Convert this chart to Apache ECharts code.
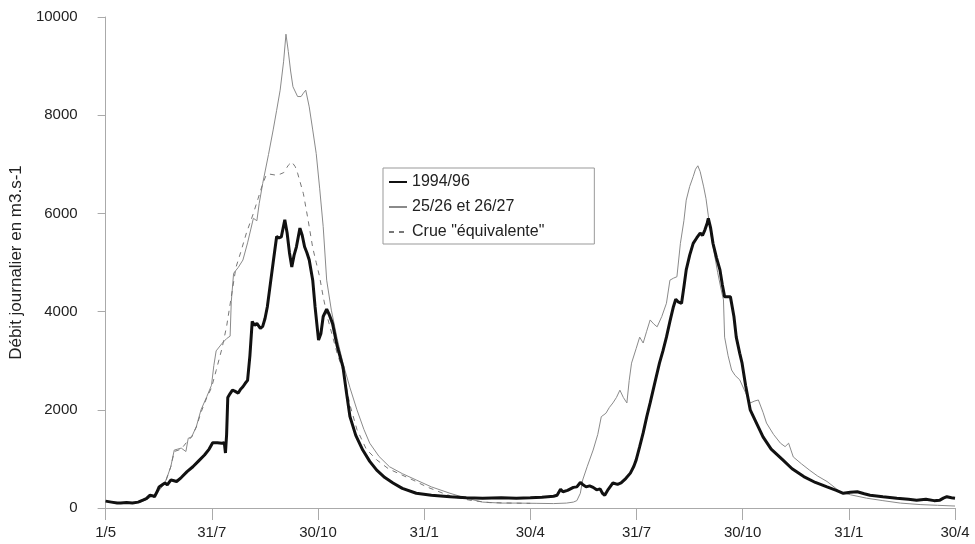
<!DOCTYPE html>
<html>
<head>
<meta charset="utf-8">
<script src="https://cdn.jsdelivr.net/npm/echarts@6/dist/echarts.min.js"></script>
<style>
  html, body { margin: 0; padding: 0; background: #ffffff; }
  #chart { width: 975px; height: 544px; }
</style>
</head>
<body>
<div id="chart"></div>
<script>
// x values are days counted from 1 May of the first year (730 days = two hydrological years)
const tickLabels = ['1/5', '31/7', '30/10', '31/1', '30/4', '31/7', '30/10', '31/1', '30/4'];

const seriesNames = ['1994/96', '25/26 et 26/27', 'Crue "équivalente"'];

// 1994/96 (thick black)
const blackDays = [0,5,10,13,18,23,28,32,35,38,40,42,44,46,49,51,53,56,58,61,65,70,75,80,85,89,92,96,100,102,103,104,105,107,109,111,114,116,118,120,122,124,126,128,130,133,135,137,139,142,144,147,149,151,154,156,158,160,162,164,167,169,171,173,175,178,180,183,185,187,190,192,195,199,204,207,210,215,221,227,233,240,247,255,267,280,296,310,324,340,353,365,375,385,388,391,393,397,402,405,408,410,413,416,419,422,425,427,429,432,436,440,443,447,451,454,456,459,462,465,468,472,476,479,482,485,488,490,492,495,497,499,502,505,508,511,513,515,517,518,520,522,525,528,530,532,535,537,540,542,545,547,550,554,560,565,572,582,590,600,610,620,628,634,640,646,652,657,668,680,690,697,705,712,717,720,723,727,730];
const blackValues = [140,120,100,100,110,100,120,160,190,260,250,230,320,430,480,510,470,570,560,540,620,740,840,960,1080,1200,1330,1330,1320,1330,1120,1500,2250,2330,2400,2380,2340,2420,2470,2540,2600,3100,3800,3720,3760,3660,3700,3860,4100,4640,5000,5530,5500,5520,5870,5600,5200,4910,5150,5320,5700,5550,5320,5200,5050,4640,4100,3420,3550,3900,4050,3950,3760,3300,2870,2350,1860,1480,1180,950,770,620,510,400,300,260,230,210,200,210,200,210,220,240,260,380,330,360,420,430,520,480,430,450,420,370,390,300,260,380,510,480,510,600,710,850,980,1250,1530,1850,2140,2550,2950,3200,3480,3800,4100,4250,4200,4170,4500,4850,5150,5390,5500,5600,5550,5660,5800,5900,5700,5390,5100,4850,4550,4300,4300,4300,3900,3480,3150,2950,2500,2000,1700,1450,1200,980,800,640,520,430,360,300,320,330,290,260,230,200,180,160,180,150,160,200,230,210,200];

// 25/26 et 26/27 (thin grey)
const greyDays = [0,5,10,15,20,25,30,35,40,45,49,52,56,59,62,65,69,71,74,78,82,87,91,93,95,100,104,107,108,110,114,118,122,127,130,132,135,140,144,147,150,153,155,157,159,161,165,168,170,172,175,178,181,184,187,190,194,199,204,210,216,222,227,235,244,255,267,280,296,310,324,340,353,370,385,396,402,405,408,410,414,419,423,426,430,433,436,439,442,445,448,450,452,456,459,462,465,468,471,474,478,482,485,488,491,494,497,499,502,505,507,509,511,514,516,518,520,523,526,529,531,532,535,538,541,545,550,554,558,561,565,568,574,580,584,587,589,591,598,605,612,620,626,631,640,654,668,683,700,715,730];
const greyValues = [140,120,100,100,110,100,120,170,240,330,450,570,840,1180,1200,1220,1150,1420,1450,1660,2000,2270,2500,2900,3200,3350,3450,3500,4200,4780,4900,5050,5400,5900,5850,6200,6610,7200,7700,8100,8510,9100,9650,9300,8900,8580,8380,8380,8450,8510,8170,7700,7220,6500,5730,4640,4030,3450,2950,2450,2000,1600,1320,1050,840,700,570,430,300,200,120,100,100,95,90,100,120,150,300,570,850,1180,1500,1860,1930,2050,2140,2250,2400,2250,2140,2600,2950,3250,3480,3360,3600,3830,3750,3690,3900,4170,4640,4680,4710,5390,5850,6270,6550,6750,6900,6970,6850,6540,6300,5950,5600,5200,4800,4450,4240,3480,3100,2810,2700,2610,2350,2140,2180,2200,1950,1730,1500,1320,1250,1320,1180,1040,900,770,650,540,430,330,270,200,150,100,70,55,40];

// Crue "équivalente" (dashed, first year only)
const dashDays = [0,10,20,30,40,45,49,52,56,59,65,70,74,78,82,87,91,95,100,104,108,112,116,121,127,131,135,138,141,146,150,153,157,160,163,165,170,174,178,181,184,187,191,195,199,204,210,216,224,233,243,253,265,276,290,300,315,330,350,365];
const dashValues = [140,100,110,120,240,330,450,570,840,1150,1200,1350,1450,1650,1950,2250,2450,2800,3250,3700,4300,4900,5200,5600,6000,6300,6600,6780,6800,6780,6800,6830,6980,7050,6950,6820,6400,5870,5300,5000,4700,4300,3850,3500,3150,2800,2100,1600,1200,980,800,690,560,430,300,220,150,110,100,95];

const pairs = (xs, ys) => xs.map((d, i) => [d, ys[i]]);

const chart = echarts.init(document.getElementById('chart'), null, { renderer: 'canvas' });
const FONT = 'Liberation Sans, Arial, sans-serif';

chart.setOption({
  animation: false,
  backgroundColor: '#ffffff',
  textStyle: { fontFamily: FONT },
  grid: { left: 104, right: 20, top: 17, bottom: 36, containLabel: false },
  legend: {
    orient: 'vertical',
    left: 383,
    top: 168,
    backgroundColor: '#ffffff',
    borderColor: '#999999',
    borderWidth: 1,
    borderRadius: 0,
    padding: [5, 50, 3, 5],
    itemWidth: 18,
    itemHeight: 14,
    itemGap: 7,
    itemStyle: { opacity: 0 },
    textStyle: { fontFamily: FONT, fontSize: 16, color: '#222222', lineHeight: 18 },
    data: seriesNames
  },
  xAxis: {
    type: 'value',
    min: 0,
    max: 730,
    interval: 91.25,
    axisLine: { lineStyle: { color: '#aaaaaa', width: 1 } },
    axisTick: { show: true, length: 12, lineStyle: { color: '#aaaaaa' } },
    splitLine: { show: false },
    axisLabel: {
      margin: 17,
      fontFamily: FONT,
      fontSize: 15,
      color: '#222222',
      formatter: v => tickLabels[Math.round(v / 91.25)] || ''
    }
  },
  yAxis: {
    type: 'value',
    min: 0,
    max: 10000,
    interval: 2000,
    name: 'Débit journalier en m3.s-1',
    nameLocation: 'middle',
    nameGap: 80,
    nameTextStyle: { fontFamily: FONT, fontSize: 17, color: '#222222' },
    axisLine: { show: true, lineStyle: { color: '#aaaaaa', width: 1 } },
    axisTick: { show: true, length: 8, lineStyle: { color: '#aaaaaa' } },
    splitLine: { show: false },
    axisLabel: { margin: 28, fontFamily: FONT, fontSize: 15, color: '#222222', formatter: v => String(v) }
  },
  series: [
    {
      name: seriesNames[1],
      type: 'line',
      data: pairs(greyDays, greyValues),
      symbol: 'none',
      lineStyle: { color: '#8a8a8a', width: 1 },
      itemStyle: { color: '#8a8a8a' },
      z: 2
    },
    {
      name: seriesNames[2],
      type: 'line',
      data: pairs(dashDays, dashValues),
      symbol: 'none',
      lineStyle: { color: '#777777', width: 1, type: [5, 5] },
      itemStyle: { color: '#777777' },
      z: 3
    },
    {
      name: seriesNames[0],
      type: 'line',
      data: pairs(blackDays, blackValues),
      symbol: 'none',
      lineStyle: { color: '#111111', width: 3 },
      itemStyle: { color: '#111111' },
      z: 4
    }
  ]
});
</script>
</body>
</html>
